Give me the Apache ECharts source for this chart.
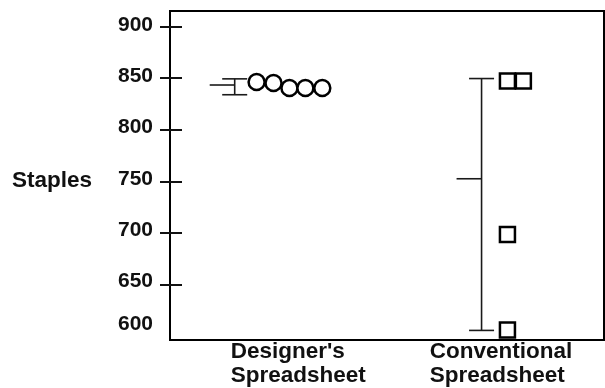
<!DOCTYPE html>
<html>
<head>
<meta charset="utf-8">
<script src="https://cdn.jsdelivr.net/npm/echarts@6/dist/echarts.min.js"></script>
<style>
html,body{margin:0;padding:0;background:#fff;}
#chart{width:605px;height:388px;}
</style>
</head>
<body>
<div id="chart"></div>
<script>
// ---- data ----
const categories = ["Designer's\nSpreadsheet", "Conventional\nSpreadsheet"];
const yAxisName = 'Staples';
const yTickValues = [600, 650, 700, 750, 800, 850, 900];
const designerStaples = [846, 845, 840, 840, 840];
const conventionalStaples = [847, 847, 697, 604];
const groupMean = [843, 751.5];
const groupLow = [833.5, 603.5];
const groupHigh = [849, 849.3];

// ---- layout (horizontal placement in axis units) ----
const categoryLabelX = [61, 261];
const designerX = [87, 104, 120, 136, 153];
const conventionalX = [339, 355, 339, 339];
const errorBarX = [65, 313];

const FONT = 'Liberation Sans';
const yMin = yTickValues[0], yMax = yTickValues[yTickValues.length - 1];
const yStep = yTickValues[1] - yTickValues[0];

const chart = echarts.init(document.getElementById('chart'));

const hiddenAxis = (extra) => Object.assign({
  show: false, axisLine: {show:false}, axisTick: {show:false},
  axisLabel: {show:false}, splitLine: {show:false}
}, extra);

const labelText = {fontFamily: FONT, fontWeight: 'bold', fontSize: 21, color: '#111'};

const option = {
  animation: false,
  backgroundColor: '#fff',
  grid: [
    // data grid: 600..900
    {left: 170, right: 1, top: 26.6, bottom: 388 - 336.4},
    // frame
    {left: 170, right: 1, top: 11, bottom: 48, show: true, borderColor: '#000', borderWidth: 2, backgroundColor: 'transparent'},
    // tick grid: 650..900
    {left: 170, right: 1, top: 26.6, bottom: 388 - 284.8}
  ],
  xAxis: [
    {
      gridIndex: 0, type: 'value', min: 0, max: 434, interval: 1,
      axisLine: {show: false}, axisTick: {show: false}, splitLine: {show: false},
      axisLabel: {
        margin: 6, align: 'left',
        fontFamily: FONT, fontWeight: 'bold', fontSize: 22.5, lineHeight: 24, color: '#111',
        formatter: v => v === categoryLabelX[0] ? categories[0] : (v === categoryLabelX[1] ? categories[1] : '')
      }
    },
    hiddenAxis({gridIndex: 1, type: 'value', min: 0, max: 1}),
    hiddenAxis({gridIndex: 2, type: 'value', min: 0, max: 1})
  ],
  yAxis: [
    {
      gridIndex: 0, type: 'value', min: yMin, max: yMax, interval: yStep, position: 'left',
      axisLine: {show: false}, axisTick: {show: false}, splitLine: {show: false},
      name: yAxisName, nameLocation: 'middle', nameRotate: 0, nameGap: 78,
      nameTextStyle: Object.assign({}, labelText, {fontSize: 22.5, padding: [0, 0, 9, 0]}),
      axisLabel: Object.assign({}, labelText, {
        margin: 17,
        formatter: v => v === yMin ? '{low|' + v + '}' : '{n|' + v + '}',
        rich: {
          low: Object.assign({}, labelText, {padding: [0, 0, 20, 0]}),
          n: Object.assign({}, labelText, {padding: [0, 0, 3, 0]})
        }
      })
    },
    hiddenAxis({gridIndex: 1, type: 'value', min: 0, max: 1}),
    {
      gridIndex: 2, type: 'value', min: yTickValues[1], max: yMax, interval: yStep, position: 'left',
      axisLine: {show: false}, splitLine: {show: false}, axisLabel: {show: false},
      axisTick: {show: true, inside: false, length: 10, lineStyle: {color: '#111', width: 2}}
    },
    {
      gridIndex: 2, type: 'value', min: yTickValues[1], max: yMax, interval: yStep, position: 'left',
      axisLine: {show: false}, splitLine: {show: false}, axisLabel: {show: false},
      axisTick: {show: true, inside: true, length: 12, lineStyle: {color: '#111', width: 2}}
    }
  ],
  series: [
    {
      type: 'custom', xAxisIndex: 0, yAxisIndex: 0,
      data: errorBarX.map((x, i) => [x, groupLow[i], groupHigh[i], groupMean[i]]),
      renderItem: function (params, api) {
        const x = api.value(0);
        const lo = api.coord([x, api.value(1)]);
        const hi = api.coord([x, api.value(2)]);
        const mean = api.coord([x, api.value(3)]);
        const cap = 12.5;
        const style = {stroke: '#1a1a1a', lineWidth: 1.6};
        return {
          type: 'group',
          children: [
            {type: 'line', shape: {x1: hi[0], y1: hi[1], x2: lo[0], y2: lo[1]}, style: style},
            {type: 'line', shape: {x1: hi[0] - cap, y1: hi[1], x2: hi[0] + cap, y2: hi[1]}, style: style},
            {type: 'line', shape: {x1: lo[0] - cap, y1: lo[1], x2: lo[0] + cap, y2: lo[1]}, style: style},
            {type: 'line', shape: {x1: mean[0] - 25, y1: mean[1], x2: mean[0], y2: mean[1]}, style: style}
          ]
        };
      }
    },
    {
      type: 'scatter', xAxisIndex: 0, yAxisIndex: 0,
      symbol: 'circle', symbolSize: 16,
      itemStyle: {color: '#fff', borderColor: '#000', borderWidth: 2.5, opacity: 1},
      data: designerStaples.map((v, i) => [designerX[i], v])
    },
    {
      type: 'scatter', xAxisIndex: 0, yAxisIndex: 0,
      symbol: 'rect', symbolSize: 15,
      itemStyle: {color: '#fff', borderColor: '#000', borderWidth: 2.5, opacity: 1},
      data: conventionalStaples.map((v, i) => [conventionalX[i], v])
    }
  ]
};
chart.setOption(option);
</script>
</body>
</html>
